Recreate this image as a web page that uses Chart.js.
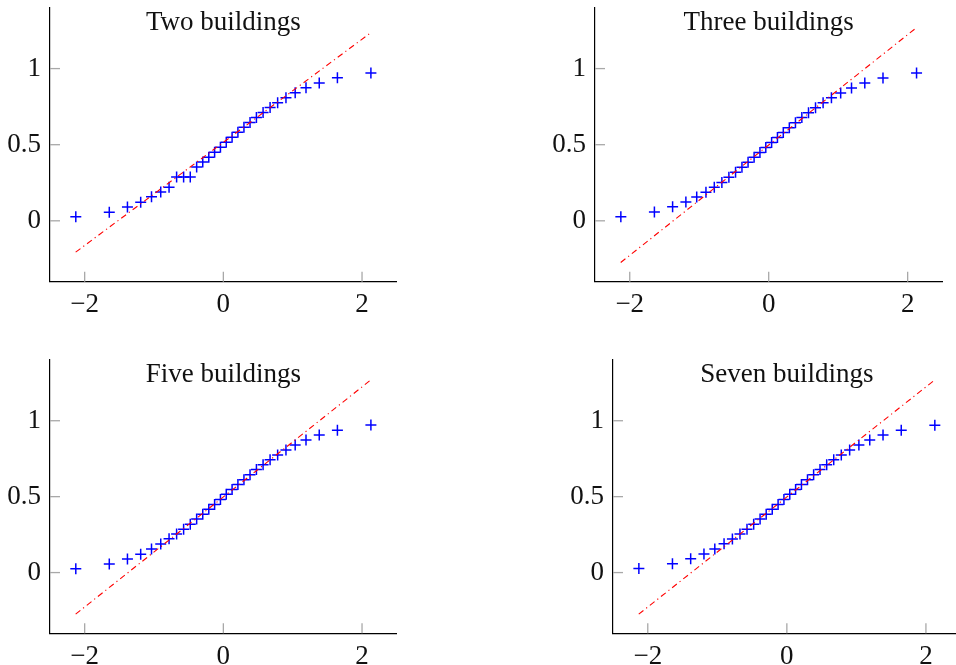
<!DOCTYPE html>
<html>
<head>
<meta charset="utf-8">
<script src="https://cdn.jsdelivr.net/npm/chart.js@4/dist/chart.umd.min.js"></script>
<style>
  html, body { margin: 0; padding: 0; background: #fff; overflow: hidden; width: 956px; height: 665px; }
  canvas { position: absolute; }
</style>
</head>
<body>
<canvas id="c1" style="left:0px;top:0px" width="478" height="332"></canvas>
<canvas id="c2" style="left:545px;top:0px" width="411" height="332"></canvas>
<canvas id="c3" style="left:0px;top:332px" width="478" height="333"></canvas>
<canvas id="c4" style="left:563px;top:332px" width="420" height="333"></canvas>
<script>
// theoretical normal quantiles (x) shared by the four panels
var quantiles = [-2.128, -1.645, -1.383, -1.192, -1.036, -0.903, -0.783, -0.674, -0.573, -0.477,
  -0.385, -0.297, -0.210, -0.126, -0.042, 0.042, 0.126, 0.210, 0.297, 0.385,
  0.477, 0.573, 0.674, 0.783, 0.903, 1.036, 1.192, 1.383, 1.645, 2.128];

// sample values (y) per panel
var twoBuildings = [0.026, 0.057, 0.090, 0.122, 0.158, 0.190, 0.221, 0.287, 0.287, 0.287,
  0.353, 0.386, 0.418, 0.451, 0.484, 0.516, 0.549, 0.581, 0.614, 0.646,
  0.679, 0.711, 0.744, 0.776, 0.809, 0.841, 0.874, 0.906, 0.939, 0.971];
var threeBuildings = [0.026, 0.058, 0.092, 0.123, 0.156, 0.188, 0.221, 0.252, 0.286, 0.319,
  0.352, 0.384, 0.417, 0.449, 0.482, 0.515, 0.547, 0.580, 0.612, 0.645,
  0.678, 0.710, 0.743, 0.775, 0.808, 0.840, 0.873, 0.906, 0.938, 0.971];
var fiveBuildings = [0.025, 0.057, 0.090, 0.121, 0.155, 0.188, 0.222, 0.254, 0.286, 0.319,
  0.352, 0.384, 0.417, 0.449, 0.482, 0.515, 0.547, 0.580, 0.612, 0.645,
  0.678, 0.710, 0.743, 0.775, 0.808, 0.840, 0.873, 0.906, 0.938, 0.972];
var sevenBuildings = [0.026, 0.058, 0.091, 0.123, 0.156, 0.189, 0.221, 0.254, 0.286, 0.319,
  0.352, 0.384, 0.417, 0.449, 0.482, 0.515, 0.547, 0.580, 0.612, 0.645,
  0.678, 0.710, 0.743, 0.775, 0.808, 0.840, 0.873, 0.906, 0.938, 0.971];

// reference line end points
var fitX = [-2.13, 2.13];
var fitTwo = [-0.206, 1.237];
var fitOther = [-0.274, 1.270];

var xTicks = [-2, 0, 2];
var yTicks = [0, 0.5, 1];

var serif = "'Liberation Serif', 'Times New Roman', serif";
Chart.defaults.font.family = serif;
Chart.defaults.font.size = 27;
Chart.defaults.color = "#111";

function fmt(v) {
  return v < 0 ? "\u2212" + Math.abs(v) : String(v);
}

// ticks drawn inside the plot, pgfplots style
var innerTicks = {
  id: "innerTicks",
  beforeDatasetsDraw(chart) {
    var ctx = chart.ctx, a = chart.chartArea;
    ctx.save();
    ctx.strokeStyle = "#a8a8a8";
    ctx.lineWidth = 1.3;
    chart.scales.x.ticks.forEach(t => {
      var px = chart.scales.x.getPixelForValue(t.value);
      ctx.beginPath(); ctx.moveTo(px, a.bottom); ctx.lineTo(px, a.bottom - 10); ctx.stroke();
    });
    chart.scales.y.ticks.forEach(t => {
      var py = chart.scales.y.getPixelForValue(t.value);
      ctx.beginPath(); ctx.moveTo(a.left, py); ctx.lineTo(a.left + 10, py); ctx.stroke();
    });
    ctx.restore();
  }
};

// title inside the plot area
var innerTitle = {
  id: "innerTitle",
  afterDraw(chart, args, opts) {
    var ctx = chart.ctx, a = chart.chartArea;
    ctx.save();
    ctx.font = "27px " + serif;
    ctx.fillStyle = "#111";
    ctx.textAlign = "center";
    ctx.textBaseline = "alphabetic";
    ctx.fillText(opts.text, (a.left + a.right) / 2, a.top + 22);
    ctx.restore();
  }
};

function noPad(s) {
  s.paddingTop = 0; s.paddingBottom = 0; s.paddingLeft = 0; s.paddingRight = 0;
}

function makeChart(id, title, ys, fitY, pad, xHeight) {
  var pts = quantiles.map((q, i) => ({ x: q, y: ys[i] }));
  var line = fitX.map((q, i) => ({ x: q, y: fitY[i] }));
  return new Chart(document.getElementById(id), {
    type: "scatter",
    data: {
      datasets: [{
        type: "line",
        data: line,
        borderColor: "#ff0000",
        borderWidth: 1.1,
        borderDash: [6, 3.5, 1.2, 3.5],
        pointRadius: 0,
        fill: false
      }, {
        data: pts,
        pointStyle: "cross",
        pointRadius: 5.5,
        pointBorderColor: "#0000ff",
        pointBorderWidth: 1.5,
        pointBackgroundColor: "#0000ff"
      }]
    },
    options: {
      responsive: false,
      animation: false,
      events: [],
      layout: { padding: pad, autoPadding: false },
      plugins: {
        legend: { display: false },
        tooltip: { enabled: false },
        innerTitle: { text: title }
      },
      scales: {
        x: {
          type: "linear",
          min: -2.5, max: 2.5,
          afterBuildTicks: s => { s.ticks = xTicks.map(v => ({ value: v })); },
          afterFit: s => { s.height = xHeight; noPad(s); },
          grid: { drawOnChartArea: false, drawTicks: false },
          border: { display: true, color: "#000", width: 1.2 },
          ticks: { padding: 7, maxRotation: 0, callback: v => fmt(v) }
        },
        y: {
          type: "linear",
          min: -0.4, max: 1.4,
          afterBuildTicks: s => { s.ticks = yTicks.map(v => ({ value: v })); },
          afterFit: s => { s.width = 50; noPad(s); },
          grid: { drawOnChartArea: false, drawTicks: false },
          border: { display: true, color: "#000", width: 1.2 },
          ticks: { padding: 9, callback: v => fmt(v) }
        }
      }
    },
    plugins: [innerTicks, innerTitle]
  });
}

makeChart("c1", "Two buildings", twoBuildings, fitTwo, { left: 0, top: 7.7, right: 81.3, bottom: 0 }, 50.3);
makeChart("c2", "Three buildings", threeBuildings, fitOther, { left: 0, top: 7.7, right: 13.6, bottom: 0 }, 50.3);
makeChart("c3", "Five buildings", fiveBuildings, fitOther, { left: 0, top: 28, right: 81.3, bottom: 0 }, 31.7);
makeChart("c4", "Seven buildings", sevenBuildings, fitOther, { left: 0, top: 28, right: 22.3, bottom: 0 }, 31.7);
</script>
</body>
</html>
